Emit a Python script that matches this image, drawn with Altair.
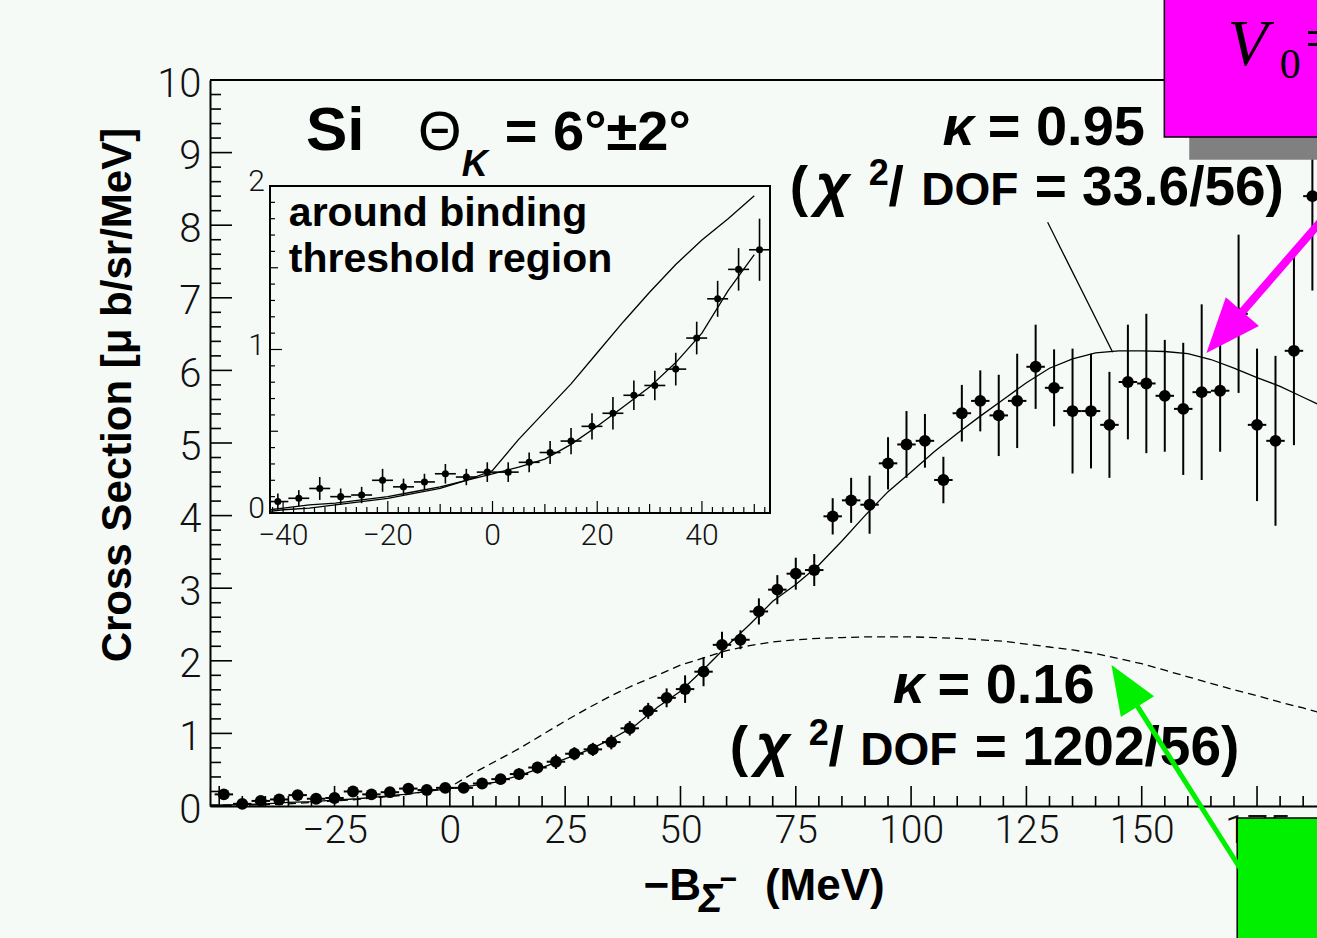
import altair as alt
import pandas as pd

# ---------------- data ----------------
energy = [-49, -45, -41, -37, -33, -29, -25, -21, -17, -13, -9, -5, -1, 3, 7, 11, 15, 19, 23, 27,
          31, 35, 39, 43, 47, 51, 55, 59, 63, 67, 71, 75, 79, 83, 87, 91, 95, 99, 103, 107,
          111, 115, 119, 123, 127, 131, 135, 139, 143, 147, 151, 155, 159, 163, 167, 171, 175, 179, 183, 187]
xsec = [0.16, 0.03, 0.07, 0.09, 0.15, 0.10, 0.11, 0.20, 0.16, 0.19, 0.24, 0.22, 0.25, 0.25, 0.31, 0.37, 0.44, 0.53, 0.61, 0.72,
        0.78, 0.88, 1.07, 1.31, 1.49, 1.61, 1.85, 2.22, 2.29, 2.68, 2.98, 3.20, 3.25, 3.99, 4.21, 4.15, 4.72, 4.98, 5.03, 4.49,
        5.41, 5.58, 5.38, 5.58, 6.05, 5.76, 5.44, 5.44, 5.25, 5.84, 5.82, 5.65, 5.47, 5.70, 5.72, 6.78, 5.25, 5.03, 6.27, 8.40]
xsec_err = [0.05, 0.05, 0.05, 0.05, 0.07, 0.05, 0.05, 0.07, 0.05, 0.05, 0.06, 0.05, 0.06, 0.06, 0.06, 0.07, 0.08, 0.08, 0.10, 0.09,
            0.09, 0.10, 0.10, 0.11, 0.13, 0.19, 0.20, 0.18, 0.13, 0.18, 0.20, 0.22, 0.22, 0.25, 0.31, 0.40, 0.36, 0.46, 0.37, 0.32,
            0.39, 0.42, 0.56, 0.65, 0.58, 0.53, 0.86, 0.79, 0.73, 0.79, 0.96, 0.77, 0.91, 1.21, 0.84, 1.09, 1.05, 1.17, 1.30, 1.30]

curve_energy = [-52, -45, -40, -35, -30, -25, -20, -15, -10, -5, 0, 5, 10, 15, 20, 25, 30, 35, 40, 45,
                50, 55, 60, 65, 70, 75, 80, 85, 90, 95, 100, 105, 110, 115, 120, 125, 130, 135, 140, 145,
                150, 155, 160, 165, 170, 175, 180, 185, 190]
fit_k095 = [0.01, 0.02, 0.03, 0.05, 0.06, 0.08, 0.10, 0.13, 0.16, 0.20, 0.24, 0.28, 0.33, 0.42, 0.53, 0.65, 0.77, 0.92, 1.10, 1.36,
            1.58, 1.88, 2.20, 2.50, 2.82, 3.05, 3.32, 3.65, 4.00, 4.33, 4.60, 4.88, 5.13, 5.37, 5.60, 5.83, 6.03, 6.16, 6.24, 6.27,
            6.27, 6.26, 6.23, 6.15, 6.03, 5.90, 5.78, 5.63, 5.48]
fit_k016 = [0.01, 0.01, 0.02, 0.03, 0.05, 0.07, 0.09, 0.12, 0.15, 0.20, 0.26, 0.45, 0.62, 0.79, 0.98, 1.17, 1.35, 1.52, 1.67, 1.80,
            1.94, 2.04, 2.14, 2.21, 2.26, 2.29, 2.31, 2.32, 2.33, 2.33, 2.33, 2.32, 2.31, 2.29, 2.27, 2.23, 2.19, 2.15, 2.10, 2.03,
            1.96, 1.87, 1.78, 1.69, 1.60, 1.52, 1.43, 1.35, 1.26]

x_label_values = [-25, 0, 25, 50, 75, 100, 125, 150, 175]
y_label_values = [0, 1, 2, 3, 4, 5, 6, 7, 8, 9, 10]
inset_x_labels = [-40, -20, 0, 20, 40]
inset_y_labels = [0, 1, 2]

# ---------------- layout constants ----------------
BG = "#f5faf7"
W, H = 1107, 726
XMIN, XMAX = -52, 188
YMIN, YMAX = 0, 10
IX0, IX1 = -42.5, 53           # inset domain
IY0, IY1 = 0, 2
INSET_RANGE_X = [60, 560]
INSET_RANGE_Y = [433, 106]
LABEL_FONT = "Roboto"
TEXT_FONT = "Liberation Sans, Arial, sans-serif"
SERIF = "Liberation Serif, Times New Roman, serif"

pts = pd.DataFrame({"x": energy, "y": xsec, "err": xsec_err})
pts["lo"] = pts["y"] - pts["err"]
pts["hi"] = pts["y"] + pts["err"]
pts["xl"] = pts["x"] - 2
pts["xr"] = pts["x"] + 2

curves = pd.DataFrame({"x": curve_energy, "k095": fit_k095, "k016": fit_k016})

xs = alt.Scale(domain=[XMIN, XMAX], nice=False, zero=False)
ys = alt.Scale(domain=[YMIN, YMAX], nice=False, zero=False)
xaxis = alt.Axis(values=x_label_values, ticks=False, grid=False, title=None,
                 labelFont=LABEL_FONT, labelFontWeight=300, labelFontSize=39, labelColor="#111",
                 labelPadding=5, labelFlush=False, labelOverlap=False,
                 domainColor="black", domainWidth=2)
yaxis = alt.Axis(values=y_label_values, ticks=False, grid=False, title=None,
                 labelFont=LABEL_FONT, labelFontWeight=300, labelFontSize=40, labelColor="#111",
                 labelPadding=9, labelOffset=4, labelFlush=False, labelOverlap=False,
                 domainColor="black", domainWidth=2)


def MX(f="x"):
    return alt.X(f"{f}:Q", scale=xs, axis=xaxis)


def MY(f="y"):
    return alt.Y(f"{f}:Q", scale=ys, axis=yaxis)


# ---- main ticks (inward) ----
x_major = list(range(-50, 176, 25))
x_minor = [v for v in range(-50, 190, 5) if v % 25]
y_major = list(range(0, 11))
y_minor = [round(i * 0.2, 1) for i in range(0, 51) if i % 5]

xt = pd.DataFrame({"x": x_major + x_minor,
                   "lo": [0.0] * (len(x_major) + len(x_minor)),
                   "hi": [20 / 72.6] * len(x_major) + [10 / 72.6] * len(x_minor)})
yt = pd.DataFrame({"y": y_major + y_minor,
                   "lo": [XMIN] * (len(y_major) + len(y_minor)),
                   "hi": [XMIN + 22 / 4.615] * len(y_major) + [XMIN + 11 / 4.615] * len(y_minor)})

xticks = alt.Chart(xt).mark_rule(color="black", strokeWidth=1.6).encode(
    x=MX("x"), y=MY("lo"), y2="hi:Q")
yticks = alt.Chart(yt).mark_rule(color="black", strokeWidth=1.6).encode(
    y=MY("y"), x=MX("lo"), x2="hi:Q")
top_border = alt.Chart(pd.DataFrame({"x": [XMIN], "x2": [XMAX + 5], "y": [YMAX]})).mark_rule(
    color="black", strokeWidth=2).encode(x=MX("x"), x2="x2:Q", y=MY("y"))

solid = alt.Chart(curves).mark_line(color="black", strokeWidth=1.3).encode(
    x=MX("x"), y=MY("k095"))
dashed = alt.Chart(curves).mark_line(color="black", strokeWidth=1.3, strokeDash=[8, 5]).encode(
    x=MX("x"), y=MY("k016"))

ebar_v = alt.Chart(pts).mark_rule(color="black", strokeWidth=2).encode(
    x=MX("x"), y=MY("lo"), y2="hi:Q")
ebar_h = alt.Chart(pts).mark_rule(color="black", strokeWidth=2).encode(
    x=MX("xl"), x2="xr:Q", y=MY("y"))
dots = alt.Chart(pts).mark_point(shape="circle", filled=True, size=140, color="black", opacity=1).encode(
    x=MX("x"), y=MY("y"))

# ---- annotations (positions in data coordinates) ----
leader = alt.Chart(pd.DataFrame({"x": [129.6, 143.7], "y": [8.04, 6.25]})).mark_line(
    color="black", strokeWidth=1.3).encode(x=MX("x"), y=MY("y"))


def texts(rows, **kw):
    df = pd.DataFrame(rows, columns=["text", "x", "y", "fs"])
    return alt.Chart(df).mark_text(baseline="alphabetic", color="black", **kw).encode(
        x=MX("x"), y=MY("y"), text="text:N", size=alt.Size("fs:Q", scale=None, legend=None))


bold_left = texts([
    ("Si", -31.2, 9.04, 62),
    ("= 6°±2°", 11.9, 9.04, 56),
    ("= 0.95", 116.6, 9.10, 56),
    ("= 0.16", 105.7, 1.42, 56),
    ("(", 73.7, 8.28, 55),
    ("2", 90.8, 8.55, 36),
    ("/", 95.1, 8.28, 55),
    ("DOF", 102.2, 8.28, 46),
    ("= 33.6/56)", 126.8, 8.28, 55),
    ("(", 60.7, 0.565, 55),
    ("2", 77.8, 0.84, 36),
    ("/", 82.1, 0.565, 55),
    ("DOF", 89.0, 0.565, 46),
    ("= 1202/56)", 113.8, 0.565, 55),
    ("−B", 42.0, -1.295, 44),
    ("(MeV)", 68.3, -1.295, 44),
    ("−", 58.5, -1.15, 30),
], align="left", font=TEXT_FONT, fontWeight="bold")
normal_left = texts([("Θ", -6.9, 9.04, 56)], align="left", font=TEXT_FONT)
bold_italic = texts([
    ("K", 2.6, 8.68, 36),
    ("Σ", 54.0, -1.46, 40),
    ("κ", 106.8, 9.10, 56),
    ("κ", 96.0, 1.42, 56),
    ("χ", 79.3, 8.28, 60),
    ("χ", 66.3, 0.565, 60),
], align="left", font=TEXT_FONT, fontWeight="bold", fontStyle="italic")
ytitle = alt.Chart(pd.DataFrame({"text": ["Cross Section [μ b/sr/MeV]"], "x": [-71.9], "y": [5.66]})).mark_text(
    font=TEXT_FONT, fontWeight="bold", fontSize=42, angle=270, align="center", baseline="middle", color="black"
).encode(x=MX("x"), y=MY("y"), text="text:N")


# overlay boxes
def box(x0, x1, y0, y1, color, stroke=None):
    df = pd.DataFrame({"x": [x0], "x2": [x1], "y": [y0], "y2": [y1]})
    kw = dict(color=color)
    if stroke:
        kw.update(stroke=stroke, strokeWidth=1.5)
    return alt.Chart(df).mark_rect(**kw).encode(x=MX("x"), x2="x2:Q", y=MY("y"), y2="y2:Q")


shadow = box(160.3, 200, 9.215, 8.90, "#808080")
mag_box = box(154.9, 200, 11.5, 9.215, "#ff00ff", "black")
green_box = box(170.7, 200, -0.165, -2.2, "#00f000", "black")
serif_it = texts([("V", 168.6, 10.21, 66), ("V", 184.2, -1.64, 66)], align="left", font=SERIF, fontStyle="italic")
serif_n = texts([("0", 179.9, 10.03, 42), ("=", 185.4, 10.30, 60)], align="left", font=SERIF)


def arrow(x0, y0, x1, y1, xt_, yt_, ang, color, width, size):
    line = alt.Chart(pd.DataFrame({"x": [x0, x1], "y": [y0, y1]})).mark_line(
        color=color, strokeWidth=width, strokeCap="butt").encode(x=MX("x"), y=MY("y"))
    head = alt.Chart(pd.DataFrame({"x": [xt_], "y": [yt_]})).mark_point(
        shape="M0,0 L0.8,2 L-0.8,2 Z", filled=True, color=color, opacity=1, size=size, angle=ang,
        strokeWidth=0).encode(x=MX("x"), y=MY("y"))
    return line + head


mag_arrow = arrow(192.85, 8.347, 168.3, 6.551, 164.03, 6.24, 221, "#ff00ff", 8, 3000)
green_arrow = arrow(172.26, -0.95, 146.3, 1.65, 143.45, 1.942, 328, "#00f000", 5, 2400)

main = alt.layer(
    yticks, xticks, top_border, solid, dashed, ebar_v, ebar_h, dots, leader,
    bold_left, normal_left, bold_italic, ytitle,
    shadow, mag_box, serif_it, serif_n, mag_arrow, green_box, green_arrow,
)

# ---------------- inset ----------------
ixs = alt.Scale(domain=[IX0, IX1], range=INSET_RANGE_X, nice=False, zero=False, clamp=True)
iys = alt.Scale(domain=[IY0, IY1], range=INSET_RANGE_Y, nice=False, zero=False)


def IX(f="x"):
    return alt.X(f"{f}:Q", scale=ixs, axis=None)


def IY(f="y"):
    return alt.Y(f"{f}:Q", scale=iys, axis=None)


frame = alt.Chart(pd.DataFrame({"x": [IX0], "x2": [IX1], "y": [IY0], "y2": [IY1]})).mark_rect(
    fill=BG, stroke="black", strokeWidth=2).encode(x=IX("x"), x2="x2:Q", y=IY("y"), y2="y2:Q")

ix_major = inset_x_labels
ix_minor = [v for v in range(-42, 53, 2) if v % 20]
iy_major = inset_y_labels
iy_minor = [round(i * 0.1, 1) for i in range(0, 21) if i % 10]
ixt = pd.DataFrame({"x": ix_major + ix_minor, "lo": [0.0] * (len(ix_major) + len(ix_minor)),
                    "hi": [12 / 163.5] * len(ix_major) + [[6, 9][v % 10 == 0] / 163.5 for v in ix_minor]})
iyt = pd.DataFrame({"y": iy_major + iy_minor, "lo": [IX0] * (len(iy_major) + len(iy_minor)),
                    "hi": [IX0 + 12 / 5.26] * len(iy_major) + [IX0 + [5, 8][abs(v - 0.5) < 1e-9 or abs(v - 1.5) < 1e-9] / 5.26 for v in iy_minor]})
ixticks = alt.Chart(ixt).mark_rule(color="black", strokeWidth=1.2).encode(x=IX("x"), y=IY("lo"), y2="hi:Q")
iyticks = alt.Chart(iyt).mark_rule(color="black", strokeWidth=1.2).encode(y=IY("y"), x=IX("lo"), x2="hi:Q")

icurve = curves[(curves["x"] >= -45) & (curves["x"] <= 50)]
isolid = alt.Chart(icurve).mark_line(color="black", strokeWidth=1.3).encode(x=IX("x"), y=IY("k095"))
iupper = alt.Chart(icurve).mark_line(color="black", strokeWidth=1.3).encode(x=IX("x"), y=IY("k016"))

ipts = pts[(pts["x"] >= IX0) & (pts["x"] <= IX1)]
i_ev = alt.Chart(ipts).mark_rule(color="black", strokeWidth=1.6).encode(x=IX("x"), y=IY("lo"), y2="hi:Q")
i_eh = alt.Chart(ipts).mark_rule(color="black", strokeWidth=1.6).encode(x=IX("xl"), x2="xr:Q", y=IY("y"))
i_dots = alt.Chart(ipts).mark_point(shape="circle", filled=True, size=50, color="black", opacity=1).encode(
    x=IX("x"), y=IY("y"))

ixlab = alt.Chart(pd.DataFrame({"x": inset_x_labels, "y": [0] * len(inset_x_labels)})).mark_text(
    font=LABEL_FONT, fontWeight=300, fontSize=30, baseline="top", dy=8, color="#111"
).encode(x=IX("x"), y=IY("y"), text=alt.Text("x:Q", format="d"))
iylab = alt.Chart(pd.DataFrame({"x": [IX0] * len(inset_y_labels), "y": inset_y_labels})).mark_text(
    font=LABEL_FONT, fontWeight=300, fontSize=30, align="right", baseline="middle", dx=-5, dy=-4, color="#111"
).encode(x=IX("x"), y=IY("y"), text=alt.Text("y:Q", format="d"))

itext = alt.Chart(pd.DataFrame({"text": ["around binding", "threshold region"],
                                "x": [-38.9, -38.9], "y": [1.755, 1.474]})).mark_text(
    font=TEXT_FONT, fontWeight="bold", fontSize=41, align="left", baseline="alphabetic", color="black"
).encode(x=IX("x"), y=IY("y"), text="text:N")

inset = alt.layer(frame, ixticks, iyticks, isolid, iupper, i_ev, i_eh, i_dots, ixlab, iylab, itext)

chart = alt.layer(main, inset).resolve_scale(x="independent", y="independent").properties(
    width=W, height=H,
    padding={"left": 210, "top": 80, "right": 0, "bottom": 132},
    autosize=alt.AutoSizeParams(type="none"),
    background=BG,
).configure_view(stroke=None)

chart.save("out.html", embed_options={"renderer": "svg", "actions": False})
